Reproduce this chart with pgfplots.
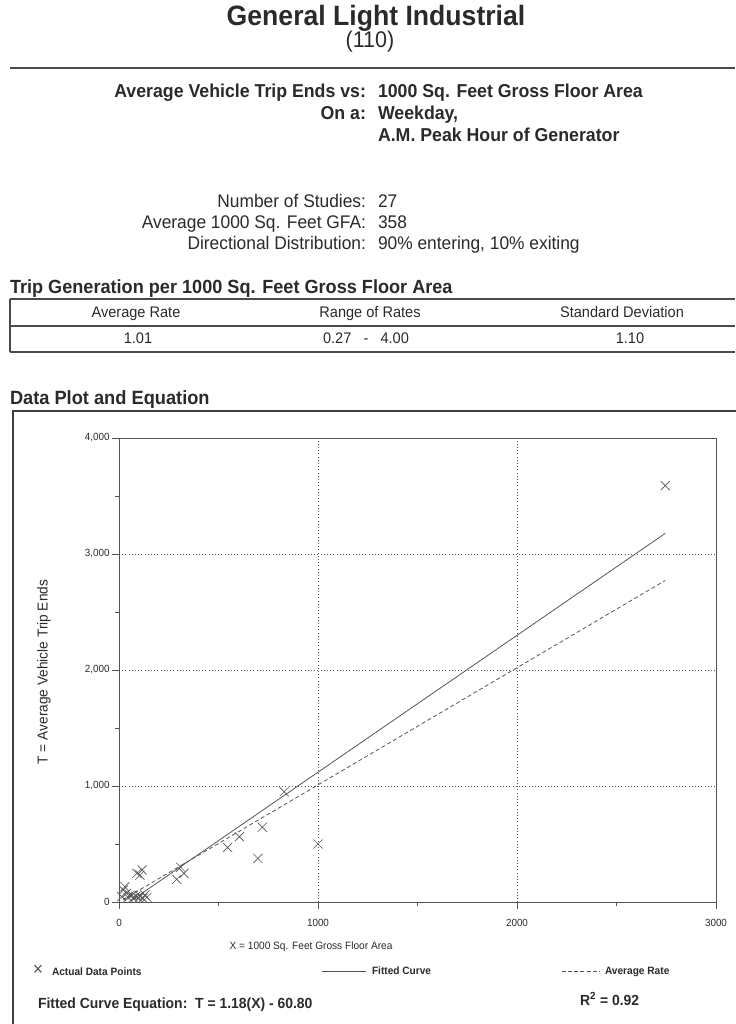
\documentclass[border=0pt]{standalone}
\usepackage{pgfplots}
\pgfplotsset{compat=1.18}
\usepackage{fontspec}
\setmainfont{Liberation Sans}[FakeStretch=0.95]
\definecolor{ink}{HTML}{2A2A2A}
\definecolor{plotgray}{HTML}{555555}
\newcommand{\fs}[1]{\fontsize{#1}{#1}\selectfont}
\begin{document}
\begin{tikzpicture}[x=0.75pt,y=-0.75pt,every node/.style={inner sep=0pt,outer sep=0pt,text=ink}]
\useasboundingbox (0,0) rectangle (735,1024);
% header
\node[anchor=base,font=\fs{21pt}\bfseries] at (376,26) {General Light Industrial};
\node[anchor=base,font=\fs{17pt}] at (370,48) {(110)};
\draw[ink!85,line width=1.2pt] (10,68) -- (735,68);
\node[anchor=base east,font=\fs{14pt}\bfseries] at (366,98) {Average Vehicle Trip Ends vs:};
\node[anchor=base west,font=\fs{14pt}\bfseries] at (378,98) {1000 Sq. Feet Gross Floor Area};
\node[anchor=base east,font=\fs{14pt}\bfseries] at (366,119) {On a:};
\node[anchor=base west,font=\fs{14pt}\bfseries] at (378,119) {Weekday,};
\node[anchor=base west,font=\fs{14pt}\bfseries] at (378,141) {A.M. Peak Hour of Generator};
\node[anchor=base east,font=\fs{13.7pt}] at (366,207) {Number of Studies:};
\node[anchor=base west,font=\fs{13.7pt}] at (378,207) {27};
\node[anchor=base east,font=\fs{13.7pt}] at (366,228) {Average 1000 Sq. Feet GFA:};
\node[anchor=base west,font=\fs{13.7pt}] at (378,228) {358};
\node[anchor=base east,font=\fs{13.7pt}] at (366,249) {Directional Distribution:};
\node[anchor=base west,font=\fs{13.7pt}] at (378,249) {90\% entering, 10\% exiting};
% table
\node[anchor=base west,font=\fs{14.3pt}\bfseries] at (10,293) {Trip Generation per 1000 Sq. Feet Gross Floor Area};
\draw[ink!85,line width=1pt] (10,299) -- (735,299);
\draw[ink!85,line width=1.2pt] (10,326) -- (735,326);
\draw[ink!85,line width=1pt] (10,352) -- (735,352);
\draw[ink!85,line width=1pt] (10,299) -- (10,352);
\node[anchor=base,font=\fs{11.5pt}] at (136,317) {Average Rate};
\node[anchor=base,font=\fs{11.5pt}] at (370,317) {Range of Rates};
\node[anchor=base,font=\fs{11.5pt}] at (622,317) {Standard Deviation};
\node[anchor=base,font=\fs{11.5pt}] at (138,343) {1.01};
\node[anchor=base,font=\fs{11.5pt}] at (366,343) {0.27 \ \ - \ \ 4.00};
\node[anchor=base,font=\fs{11.5pt}] at (630,343) {1.10};
\node[anchor=base west,font=\fs{14.4pt}\bfseries] at (10,404) {Data Plot and Equation};
% frame
\draw[ink!90,line width=2.2pt] (13,1030) -- (13,411) -- (740,411);
% axis
\begin{axis}[
  at={(89.25pt,-676.5pt)}, anchor=south west,
  scale only axis, width=447.75pt, height=348pt,
  xmin=0, xmax=3000, ymin=0, ymax=4000,
  xtick={0,1000,2000,3000}, ytick={0,1000,2000,3000,4000},
  minor x tick num=1, minor y tick num=1,
  tick align=outside, major tick length=5pt, minor tick length=3pt,
  xtick pos=bottom, ytick pos=left,
  axis line style={plotgray,line width=0.6pt},
  tick style={plotgray,line width=0.5pt},
  grid=major, major grid style={plotgray,dotted,line width=0.7pt},
  /pgf/number format/assume math mode=true,
  tick label style={font=\fs{7.8pt},text=ink},
  yticklabel style={/pgf/number format/1000 sep={,},xshift=-2pt},
  xticklabel style={/pgf/number format/1000 sep={},yshift=-8pt},
  clip=false,
]
\addplot[only marks, mark=x, mark size=4.8pt, plotgray, mark options={line width=0.5pt}] coordinates {
 (2745,3590) (830,950) (720,645) (605,563) (546,470) (698,376) (1000,500)
 (310,300) (327,247) (290,196) (116,276) (90,247) (105,232)
 (14,46) (22,103) (30,132) (38,75) (45,40) (55,60) (65,60) (72,35)
 (85,50) (99,34) (105,52) (120,32) (130,60) (140,40)
};
\addplot[plotgray, line width=0.6pt] coordinates {(60,10) (2745,3178)};
\addplot[plotgray, line width=0.6pt, dash pattern=on 3pt off 2pt] coordinates {(20,20) (2745,2772)};
\end{axis}
\node[anchor=base,font=\fs{8pt}] at (311,949) {X = 1000 Sq. Feet Gross Floor Area};
\node[font=\fs{10.8pt},rotate=90] at (44,672) {T = Average Vehicle Trip Ends};
% legend
\node[font=\fs{14pt},text=plotgray] at (38,970) {×};
\node[anchor=base west,font=\fs{8pt}\bfseries] at (52,975) {Actual Data Points};
\draw[plotgray,line width=0.6pt] (322,971) -- (366,971);
\node[anchor=base west,font=\fs{8pt}\bfseries] at (372,974) {Fitted Curve};
\draw[plotgray,line width=0.6pt,dash pattern=on 3pt off 1.6pt] (562,971) -- (600,971);
\node[anchor=base west,font=\fs{8pt}\bfseries] at (605,974) {Average Rate};
\node[anchor=base west,font=\fs{11pt}\bfseries] at (38,1008) {Fitted Curve Equation:\ \ T = 1.18(X) - 60.80};
\node[anchor=base west,font=\fs{11pt}\bfseries] at (580,1005) {R\textsuperscript{2} = 0.92};
\end{tikzpicture}
\end{document}
